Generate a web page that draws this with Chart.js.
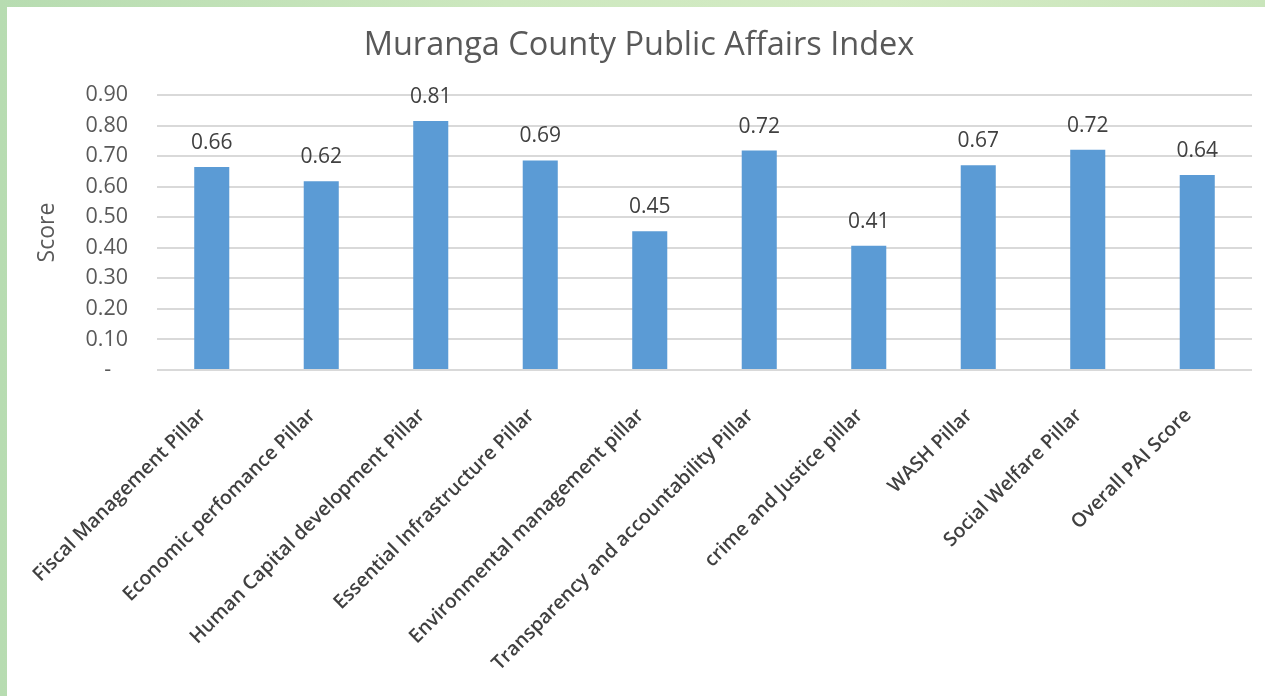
<!DOCTYPE html>
<html>
<head>
<meta charset="utf-8">
<script src="https://cdn.jsdelivr.net/npm/chart.js@4.4.1/dist/chart.umd.min.js"></script>
<style>
    html, body { margin: 0; padding: 0; }
    body {
        width: 1265px; height: 696px; overflow: hidden; position: relative;
        background: linear-gradient(90deg, #b7dcb1 0%, #cde8bf 40%, #d4ebc4 70%, #c9e5bb 100%);
    }
    #panel { position: absolute; left: 7px; top: 7px; width: 1258px; height: 689px; background: #fff; }
    #wrap { position: absolute; left: 0; top: 0; width: 1265px; height: 696px; }
</style>
</head>
<body>
<div id="panel"></div>
<div id="wrap"><canvas id="chart"></canvas></div>
<script>
const categories = [
    'Fiscal Management Pillar',
    'Economic perfomance Pillar',
    'Human Capital development Pillar',
    'Essential Infrastructure Pillar',
    'Environmental management pillar',
    'Transparency and accountability Pillar',
    'crime and Justice pillar',
    'WASH Pillar',
    'Social Welfare Pillar',
    'Overall PAI Score'
];
const scores = [0.664, 0.618, 0.815, 0.686, 0.454, 0.718, 0.407, 0.670, 0.721, 0.638];
const yTicks = [0, 0.1, 0.2, 0.3, 0.4, 0.5, 0.6, 0.7, 0.8, 0.9];

const FONT = "'Open Sans', sans-serif";

// draws the value above each bar
const barValues = {
    id: 'barValues',
    afterDatasetsDraw(chart) {
        const ctx = chart.ctx;
        const meta = chart.getDatasetMeta(0);
        ctx.save();
        ctx.font = '21px ' + FONT;
        ctx.fillStyle = '#404040';
        ctx.textAlign = 'center';
        ctx.textBaseline = 'middle';
        meta.data.forEach((bar, i) => {
            ctx.fillText(scores[i].toFixed(2), bar.x, bar.y - 24);
        });
        ctx.restore();
    }
};

new Chart(document.getElementById('chart'), {
    type: 'bar',
    data: {
        labels: categories,
        datasets: [{
            label: 'Score',
            data: scores,
            backgroundColor: '#5b9bd5',
            categoryPercentage: 1,
            barPercentage: 0.32
        }]
    },
    options: {
        animation: false,
        responsive: true,
        maintainAspectRatio: false,
        layout: { padding: { left: 26, right: 13, top: 0, bottom: 0 } },
        plugins: {
            legend: { display: false },
            tooltip: { enabled: false },
            title: {
                display: true,
                text: 'Muranga County Public Affairs Index',
                color: '#595959',
                font: { family: FONT, size: 32.5, weight: 'normal' },
                padding: { top: 26, bottom: 30 }
            }
        },
        scales: {
            x: {
                grid: { display: false, drawTicks: false },
                border: { display: false },
                ticks: {
                    color: '#404040',
                    font: { family: FONT, size: 19.5, weight: '600' },
                    minRotation: 45,
                    maxRotation: 45,
                    autoSkip: false,
                    padding: 34,
                    labelOffset: -9
                },
                afterFit: s => { s.height = 326; }
            },
            y: {
                min: 0,
                max: 0.9,
                afterBuildTicks: s => { s.ticks = yTicks.map(v => ({ value: v })); },
                grid: { color: '#d9d9d9', lineWidth: 2, drawTicks: false },
                border: { display: false },
                ticks: {
                    color: '#595959',
                    font: { family: FONT, size: 21.5 },
                    padding: 29,
                    callback: v => v === 0 ? '-   ' : v.toFixed(2)
                },
                title: {
                    display: true,
                    text: 'Score',
                    color: '#595959',
                    font: { family: FONT, size: 23 },
                    padding: { top: 8, bottom: 0 }
                },
                afterFit: s => { s.width = 131; }
            }
        }
    },
    plugins: [barValues]
});
</script>
</body>
</html>
